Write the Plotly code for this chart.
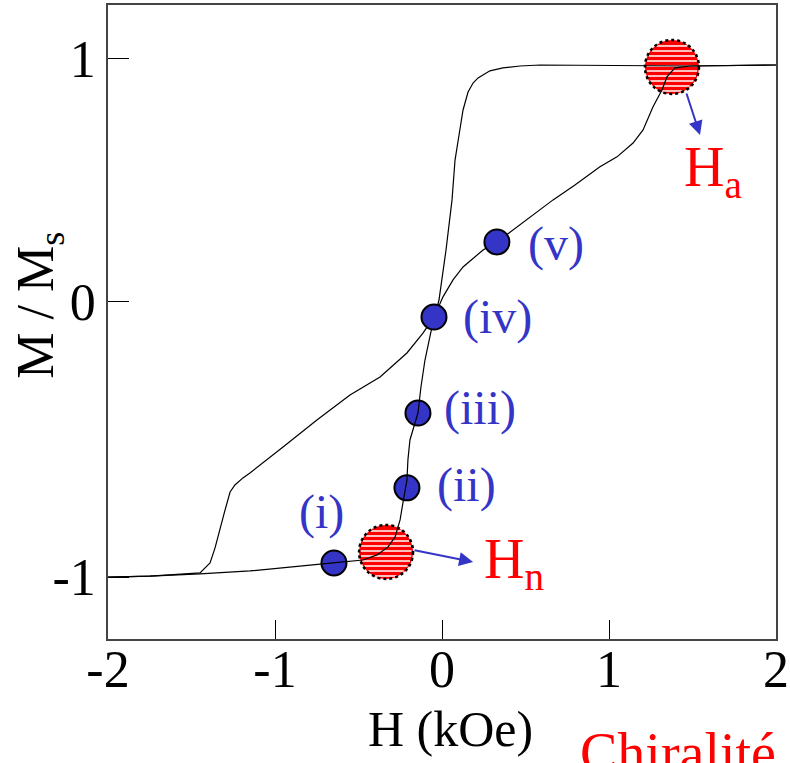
import math
import plotly.graph_objects as go

# ---- data ----
# branch rising slowly (descending field sweep from negative saturation)
branch_slow_h = [-2.000, -1.749, -1.449, -1.431, -1.389, -1.359, -1.329, -1.299, -1.269, -1.240,
                 -1.192, -1.150, -0.952, -0.749, -0.551, -0.371, -0.210, -0.114, -0.072, -0.042,
                 0.006, 0.066, 0.126, 0.246, 0.329, 0.407, 0.527, 0.665, 0.796, 0.946, 1.048,
                 1.144, 1.204, 1.263, 1.317, 1.347, 1.395, 1.485, 2.000]
branch_slow_m = [-1.132, -1.128, -1.115, -1.103, -1.074, -1.012, -0.930, -0.856, -0.782, -0.753,
                 -0.724, -0.704, -0.597, -0.486, -0.383, -0.309, -0.210, -0.128, -0.086, -0.054,
                 0.021, 0.091, 0.144, 0.214, 0.247, 0.288, 0.350, 0.420, 0.481, 0.556, 0.597,
                 0.654, 0.708, 0.802, 0.872, 0.926, 0.963, 0.971, 0.975]
# steep branch
branch_steep_h = [2.000, 1.485, 0.587, 0.467, 0.365, 0.287, 0.216, 0.186, 0.156, 0.126, 0.102,
                  0.078, 0.060, 0.024, -0.018, -0.060, -0.102, -0.126, -0.144, -0.174, -0.192,
                  -0.204, -0.210, -0.234, -0.251, -0.281, -0.323, -0.389, -0.473, -0.653,
                  -1.150, -1.449, -1.749, -2.000]
branch_steep_m = [0.975, 0.971, 0.975, 0.971, 0.963, 0.951, 0.922, 0.901, 0.864, 0.790, 0.687,
                  0.584, 0.420, 0.214, 0.008, -0.103, -0.239, -0.350, -0.457, -0.527, -0.568,
                  -0.650, -0.733, -0.827, -0.897, -0.967, -1.008, -1.041, -1.062, -1.074,
                  -1.107, -1.119, -1.128, -1.132]

# labelled states
state_labels = ["(i)", "(ii)", "(iii)", "(iv)", "(v)"]
state_h = [-0.647, -0.210, -0.144, -0.048, 0.329]
state_m = [-1.074, -0.765, -0.457, -0.062, 0.247]
state_label_h = [-0.719, 0.144, 0.228, 0.335, 0.683]
state_label_m = [-0.865, -0.754, -0.437, -0.062, 0.238]

# characteristic fields
field_names = ["H<sub>n</sub>", "H<sub>a</sub>"]
field_h = [-0.335, 1.377]
field_m = [-1.029, 0.967]
field_arrow_head_h = [0.186, 1.545]
field_arrow_head_m = [-1.070, 0.687]
field_label_h = [0.240, 1.437]
field_label_m = [-1.075, 0.539]

x_tickvals = [-2, -1, 0, 1, 2]
x_ticktext = ["-2", "-1", "0", "1", "2"]
y_tickvals = [-1.132, 0, 1]
y_ticktext = ["-1", "0", "1"]

# ---- styling ----
FONT = "Liberation Serif"
BLUE = "#3434C6"
RED = "#FF0000"

fig = go.Figure()

# lower markers (under the curve)
fig.add_trace(go.Scatter(
    x=state_h[:3], y=state_m[:3], mode="markers",
    marker=dict(size=25, color=BLUE, line=dict(color="black", width=2)),
    showlegend=False, hoverinfo="skip"))

fig.add_trace(go.Scatter(x=branch_slow_h, y=branch_slow_m, mode="lines",
                         line=dict(color="black", width=1.2), showlegend=False))
fig.add_trace(go.Scatter(x=branch_steep_h, y=branch_steep_m, mode="lines",
                         line=dict(color="black", width=1.2), showlegend=False))

fig.add_trace(go.Scatter(
    x=state_h[3:], y=state_m[3:], mode="markers",
    marker=dict(size=25, color=BLUE, line=dict(color="black", width=2)),
    showlegend=False, hoverinfo="skip"))

# hatched red circles
R = 27
shapes = []
for cx, cy in zip(field_h, field_m):
    common = dict(xref="x", yref="y", xsizemode="pixel", ysizemode="pixel",
                  xanchor=cx, yanchor=cy, layer="below")
    shapes.append(dict(type="circle", x0=-R, x1=R, y0=-R, y1=R,
                       fillcolor=RED, line=dict(width=0), **common))
    for dy in range(-24, 25, 5):
        half = math.sqrt(R * R - dy * dy) - 1.5
        shapes.append(dict(type="line", x0=-half, x1=half, y0=dy, y1=dy,
                           line=dict(color="white", width=1.5), **common))
    shapes.append(dict(type="circle", x0=-R, x1=R, y0=-R, y1=R,
                       fillcolor="rgba(0,0,0,0)",
                       line=dict(color="black", width=2.5, dash="dot"), **common))

annotations = []
for lab, lx, ly in zip(state_labels, state_label_h, state_label_m):
    annotations.append(dict(x=lx, y=ly, xref="x", yref="y", text=lab, showarrow=False,
                            font=dict(family=FONT, size=48, color=BLUE),
                            xanchor="center", yanchor="middle"))

arrow_offsets = [(-60, -12), (-14, -43)]
for hx, hy, (ax, ay) in zip(field_arrow_head_h, field_arrow_head_m, arrow_offsets):
    annotations.append(dict(x=hx, y=hy, xref="x", yref="y", text="", showarrow=True,
                            ax=ax, ay=ay, arrowhead=2, arrowsize=1.4, arrowwidth=2,
                            arrowcolor=BLUE, standoff=0, startstandoff=0))

for name, lx, ly in zip(field_names, field_label_h, field_label_m):
    annotations.append(dict(x=lx, y=ly, xref="x", yref="y", text=name, showarrow=False,
                            font=dict(family=FONT, size=56, color=RED),
                            xanchor="left", yanchor="middle"))

# axis titles
annotations.append(dict(x=0.512, y=-0.142, xref="paper", yref="paper", text="H (kOe)",
                        showarrow=False, font=dict(family=FONT, size=50, color="black"),
                        xanchor="center", yanchor="middle"))
annotations.append(dict(x=-0.102, y=0.527, xref="paper", yref="paper", text="M / M<sub>s</sub>",
                        showarrow=False, textangle=-90,
                        font=dict(family=FONT, size=52, color="black"),
                        xanchor="center", yanchor="middle"))
annotations.append(dict(x=0.7035, y=-0.128, xref="paper", yref="paper", text="Chiralité",
                        showarrow=False, font=dict(family=FONT, size=56, color=RED),
                        xanchor="left", yanchor="top"))

fig.update_layout(
    width=790, height=763,
    margin=dict(l=108, r=14, t=5, b=124, autoexpand=False),
    paper_bgcolor="white", plot_bgcolor="white",
    shapes=shapes, annotations=annotations,
    xaxis=dict(range=[-2, 2], tickvals=x_tickvals, ticktext=x_ticktext,
               ticks="inside", ticklen=19, tickwidth=1, tickcolor="black",
               ticklabelstandoff=-16,
               showline=True, linecolor="#444444", linewidth=1.5, mirror=True,
               showgrid=False, zeroline=False,
               tickfont=dict(family=FONT, size=52, color="black")),
    yaxis=dict(range=[-1.387, 1.222], tickvals=y_tickvals, ticktext=y_ticktext,
               ticks="inside", ticklen=21, tickwidth=1, tickcolor="black",
               showline=True, linecolor="#444444", linewidth=1.5, mirror=True,
               showgrid=False, zeroline=False,
               tickfont=dict(family=FONT, size=52, color="black")),
)

fig.write_html("out.html", post_script="document.body.style.margin='0';",
               config={"displayModeBar": False})
